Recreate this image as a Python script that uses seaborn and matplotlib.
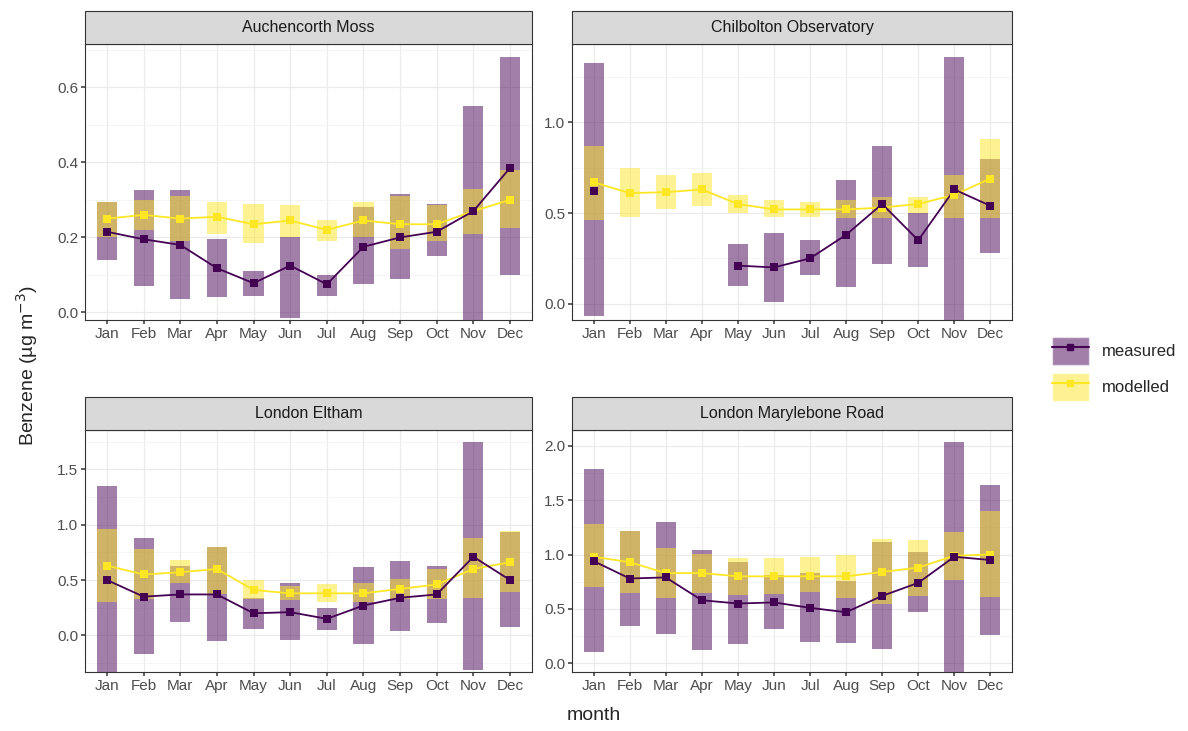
import numpy as np
import pandas as pd
import matplotlib
matplotlib.use("Agg")
import matplotlib.pyplot as plt
import seaborn as sns
from matplotlib.ticker import MultipleLocator, FormatStrFormatter
from matplotlib.patches import Patch
from matplotlib.lines import Line2D

months = ["Jan", "Feb", "Mar", "Apr", "May", "Jun", "Jul", "Aug", "Sep", "Oct", "Nov", "Dec"]
sites = ["Auchencorth Moss", "Chilbolton Observatory", "London Eltham", "London Marylebone Road"]
nan = np.nan

# measured: mean, low, high
auch_meas_mean = [0.215, 0.195, 0.18, 0.118, 0.078, 0.125, 0.075, 0.175, 0.2, 0.215, 0.27, 0.385]
auch_meas_low = [0.14, 0.07, 0.035, 0.04, 0.045, -0.015, 0.045, 0.075, 0.09, 0.15, -0.02, 0.1]
auch_meas_high = [0.295, 0.325, 0.325, 0.195, 0.11, 0.2, 0.1, 0.28, 0.315, 0.29, 0.55, 0.68]
auch_mod_mean = [0.25, 0.26, 0.25, 0.255, 0.235, 0.245, 0.22, 0.245, 0.235, 0.235, 0.27, 0.3]
auch_mod_low = [0.2, 0.22, 0.19, 0.21, 0.185, 0.2, 0.19, 0.2, 0.17, 0.19, 0.21, 0.225]
auch_mod_high = [0.295, 0.3, 0.31, 0.295, 0.29, 0.285, 0.245, 0.295, 0.31, 0.285, 0.33, 0.38]

chil_meas_mean = [0.62, nan, nan, nan, 0.21, 0.2, 0.25, 0.38, 0.55, 0.35, 0.63, 0.54]
chil_meas_low = [-0.07, nan, nan, nan, 0.1, 0.01, 0.16, 0.09, 0.22, 0.2, -0.09, 0.28]
chil_meas_high = [1.33, nan, nan, nan, 0.33, 0.39, 0.35, 0.68, 0.87, 0.5, 1.36, 0.8]
chil_mod_mean = [0.67, 0.61, 0.615, 0.63, 0.55, 0.52, 0.52, 0.52, 0.53, 0.55, 0.6, 0.69]
chil_mod_low = [0.46, 0.48, 0.52, 0.54, 0.5, 0.48, 0.48, 0.47, 0.47, 0.5, 0.47, 0.47]
chil_mod_high = [0.87, 0.75, 0.71, 0.72, 0.6, 0.57, 0.56, 0.57, 0.59, 0.59, 0.71, 0.91]

elt_meas_mean = [0.5, 0.35, 0.37, 0.37, 0.2, 0.21, 0.15, 0.27, 0.34, 0.37, 0.71, 0.5]
elt_meas_low = [-0.33, -0.17, 0.12, -0.05, 0.06, -0.04, 0.05, -0.08, 0.04, 0.11, -0.31, 0.08]
elt_meas_high = [1.35, 0.88, 0.63, 0.8, 0.34, 0.47, 0.25, 0.62, 0.67, 0.63, 1.75, 0.93]
elt_mod_mean = [0.63, 0.55, 0.57, 0.6, 0.41, 0.38, 0.38, 0.38, 0.42, 0.46, 0.6, 0.66]
elt_mod_low = [0.3, 0.33, 0.47, 0.37, 0.33, 0.32, 0.3, 0.3, 0.33, 0.33, 0.34, 0.39]
elt_mod_high = [0.96, 0.78, 0.68, 0.8, 0.5, 0.45, 0.46, 0.47, 0.51, 0.6, 0.88, 0.94]

mar_meas_mean = [0.94, 0.78, 0.79, 0.58, 0.55, 0.56, 0.51, 0.47, 0.62, 0.74, 0.98, 0.95]
mar_meas_low = [0.1, 0.34, 0.27, 0.12, 0.18, 0.32, 0.2, 0.19, 0.13, 0.47, -0.08, 0.26]
mar_meas_high = [1.79, 1.22, 1.3, 1.04, 0.93, 0.81, 0.83, 0.76, 1.12, 1.02, 2.04, 1.64]
mar_mod_mean = [0.98, 0.93, 0.83, 0.83, 0.8, 0.8, 0.8, 0.8, 0.84, 0.88, 0.99, 1.0]
mar_mod_low = [0.7, 0.65, 0.6, 0.65, 0.63, 0.64, 0.66, 0.6, 0.55, 0.62, 0.77, 0.61]
mar_mod_high = [1.28, 1.22, 1.06, 1.01, 0.97, 0.97, 0.98, 1.0, 1.14, 1.13, 1.21, 1.4]

site_data = {
    "Auchencorth Moss": (auch_meas_mean, auch_meas_low, auch_meas_high, auch_mod_mean, auch_mod_low, auch_mod_high),
    "Chilbolton Observatory": (chil_meas_mean, chil_meas_low, chil_meas_high, chil_mod_mean, chil_mod_low, chil_mod_high),
    "London Eltham": (elt_meas_mean, elt_meas_low, elt_meas_high, elt_mod_mean, elt_mod_low, elt_mod_high),
    "London Marylebone Road": (mar_meas_mean, mar_meas_low, mar_meas_high, mar_mod_mean, mar_mod_low, mar_mod_high),
}
tick_step = {"Auchencorth Moss": 0.2, "Chilbolton Observatory": 0.5,
             "London Eltham": 0.5, "London Marylebone Road": 0.5}

purple = "#440154"
yellow = "#FDE725"

sns.set_theme(style="whitegrid")
plt.rcParams['font.family'] = ['Liberation Sans', 'DejaVu Sans']

W, H = 1188, 731
fig = plt.figure(figsize=(W / 100, H / 100), dpi=100)

# panel boxes in pixels: left, top, right, bottom
boxes = [(85, 44, 532, 320), (572, 44, 1012, 320), (85, 430, 532, 672), (572, 430, 1012, 672)]
strip_h = 33

x = np.arange(len(months))
for box, site in zip(boxes, sites):
    l, t, r, b = box
    ax = fig.add_axes([l / W, 1 - b / H, (r - l) / W, (b - t) / H])
    mm, ml, mh, om, ol, oh = site_data[site]
    ml_a, mh_a = np.array(ml), np.array(mh)
    ol_a, oh_a = np.array(ol), np.array(oh)
    ax.bar(x, mh_a - ml_a, bottom=ml_a, width=0.55, color=purple, alpha=0.5, linewidth=0)
    ax.bar(x, oh_a - ol_a, bottom=ol_a, width=0.55, color=yellow, alpha=0.5, linewidth=0)
    df = pd.DataFrame({"x": np.concatenate([x, x]),
                       "value": list(mm) + list(om),
                       "type": ["measured"] * 12 + ["modelled"] * 12})
    for typ, col in [("modelled", yellow), ("measured", purple)]:
        d = df[df["type"] == typ]
        ax.plot(d["x"], d["value"], color=col, lw=1.3, zorder=3)
        sns.scatterplot(data=d, x="x", y="value", ax=ax, color=col, marker="s",
                        s=28, linewidth=0, zorder=4, legend=False)
    ax.set_xlim(-0.6, 11.6)
    ax.set_xticks(x)
    ax.set_xticklabels(months)
    ax.yaxis.set_major_locator(MultipleLocator(tick_step[site]))
    ax.yaxis.set_major_formatter(FormatStrFormatter('%.1f'))
    ax.yaxis.set_minor_locator(MultipleLocator(tick_step[site] / 2))
    ax.grid(which="minor", axis="y", color="#f2f2f2", lw=0.5)
    ax.grid(which="major", color="#ebebeb", lw=0.9)
    ax.set_axisbelow(True)
    ax.set_xlabel("")
    ax.set_ylabel("")
    ax.tick_params(labelsize=11, colors="#4d4d4d", length=3, left=True, bottom=True, pad=2)
    for sp in ax.spines.values():
        sp.set_color("#333333")
        sp.set_linewidth(0.8)
    # facet strip
    fig.patches.append(plt.Rectangle((l / W, 1 - t / H), (r - l) / W, strip_h / H,
                                     transform=fig.transFigure, facecolor="#d9d9d9",
                                     edgecolor="#333333", lw=0.8))
    fig.text((l + r) / 2 / W, 1 - (t - strip_h / 2) / H, site, ha="center", va="center",
             fontsize=11.5, color="#1a1a1a")

fig.text(0.5, 0.015, "month", ha="center", fontsize=14)
fig.text(0.012, 0.5, "Benzene (µg m$^{-3}$)", va="center", rotation=90, fontsize=14)

handles = [
    (Patch(facecolor=purple, alpha=0.5), Line2D([], [], color=purple, marker="s", markersize=5)),
    (Patch(facecolor=yellow, alpha=0.5), Line2D([], [], color=yellow, marker="s", markersize=5)),
]
fig.legend(handles, ["measured", "modelled"], loc="center left", bbox_to_anchor=(0.873, 0.495),
           frameon=False, fontsize=12, handlelength=2.2, handleheight=2.2, labelspacing=0.5)

fig.savefig("out.png", dpi=100)
